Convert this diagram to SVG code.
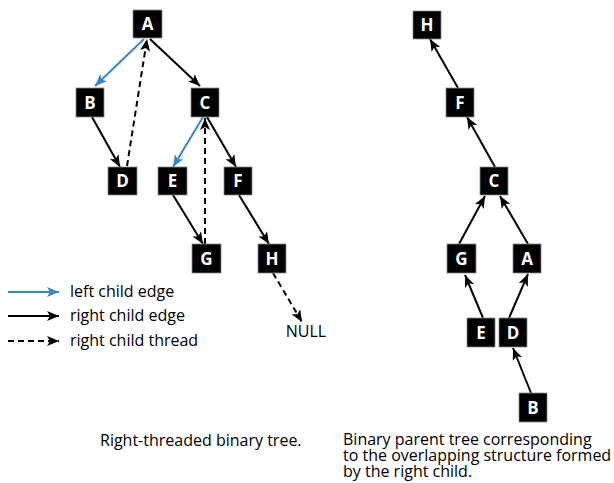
<svg xmlns="http://www.w3.org/2000/svg" width="614" height="483" viewBox="0 0 614 483">
  <style>
    .node rect { fill: #000; stroke: #8a8a8a; stroke-width: 0.8; }
    .node text { fill: #fff; font-family: "Open Sans", "Noto Sans", sans-serif; font-weight: bold; font-size: 17px; text-anchor: middle; }
    .edge { fill: none; stroke: #000; stroke-width: 2; }
    .left { stroke: #3786c8; }
    .thread { stroke-dasharray: 6 4; }
    .label { fill: #000; font-family: "Open Sans", "Noto Sans", sans-serif; font-size: 16px; }
  </style>
  <defs>
    <marker id="arrowBlack" markerUnits="userSpaceOnUse" markerWidth="13" markerHeight="11" refX="12" refY="5" orient="auto">
      <path d="M0,0 L12,5 L0,10 L3,5 z" fill="#000"/>
    </marker>
    <marker id="arrowBlue" markerUnits="userSpaceOnUse" markerWidth="13" markerHeight="11" refX="12" refY="5" orient="auto">
      <path d="M0,0 L12,5 L0,10 L3,5 z" fill="#3786c8"/>
    </marker>
  </defs>

  <!-- connectors -->
  <g id="connectors">
    <!-- right-threaded binary tree -->
    <path class="edge left" d="M144,39 L95,86" marker-end="url(#arrowBlue)"/>
    <path class="edge" d="M150,39 L200,86" marker-end="url(#arrowBlack)"/>
    <path class="edge thread" d="M127,166 L147,39" marker-end="url(#arrowBlack)"/>
    <path class="edge" d="M92,117 L120,167" marker-end="url(#arrowBlack)"/>
    <path class="edge left" d="M203,117 L173,167" marker-end="url(#arrowBlue)"/>
    <path class="edge thread" d="M205,244 L205,118" marker-end="url(#arrowBlack)"/>
    <path class="edge" d="M207,117 L236,167" marker-end="url(#arrowBlack)"/>
    <path class="edge" d="M173,195 L203,244" marker-end="url(#arrowBlack)"/>
    <path class="edge" d="M239,195 L269,244" marker-end="url(#arrowBlack)"/>
    <path class="edge thread" d="M273,273 L302,322" marker-end="url(#arrowBlack)"/>

    <!-- binary parent tree -->
    <path class="edge" d="M458,88 L430,39" marker-end="url(#arrowBlack)"/>
    <path class="edge" d="M495,167 L467,117" marker-end="url(#arrowBlack)"/>
    <path class="edge" d="M459,244 L485,196" marker-end="url(#arrowBlack)"/>
    <path class="edge" d="M528,244 L500,196" marker-end="url(#arrowBlack)"/>
    <path class="edge" d="M483,318 L465,275" marker-end="url(#arrowBlack)"/>
    <path class="edge" d="M509,318 L528,274" marker-end="url(#arrowBlack)"/>
    <path class="edge" d="M531,393 L513,348" marker-end="url(#arrowBlack)"/>

    <!-- legend lines -->
    <path class="edge left" d="M8,292 L59,292" marker-end="url(#arrowBlue)"/>
    <path class="edge" d="M8,316 L59,316" marker-end="url(#arrowBlack)"/>
    <path class="edge thread" d="M8,341 L59,341" marker-end="url(#arrowBlack)"/>
  </g>

  <!-- right-threaded binary tree nodes -->
  <g id="tA" class="node"><rect x="133" y="10" width="29" height="28"/><text x="147.5" y="30">A</text></g>
  <g id="tB" class="node"><rect x="76" y="88" width="28" height="29"/><text x="90" y="108.5">B</text></g>
  <g id="tC" class="node"><rect x="191" y="88" width="28" height="29"/><text x="205" y="108.5">C</text></g>
  <g id="tD" class="node"><rect x="108" y="167" width="29" height="28"/><text x="122.5" y="187">D</text></g>
  <g id="tE" class="node"><rect x="158" y="167" width="29" height="28"/><text x="172.5" y="187">E</text></g>
  <g id="tF" class="node"><rect x="224" y="167" width="28" height="28"/><text x="238" y="187">F</text></g>
  <g id="tG" class="node"><rect x="192" y="244" width="29" height="29"/><text x="206.5" y="264.5">G</text></g>
  <g id="tH" class="node"><rect x="258" y="244" width="28" height="29"/><text x="272" y="264.5">H</text></g>
  <text id="null" class="label" x="306" y="337" text-anchor="middle">NULL</text>

  <!-- binary parent tree nodes -->
  <g id="pH" class="node"><rect x="413" y="11" width="28" height="28"/><text x="427" y="31">H</text></g>
  <g id="pF" class="node"><rect x="446" y="88" width="28" height="29"/><text x="460" y="108.5">F</text></g>
  <g id="pC" class="node"><rect x="480" y="167" width="28" height="28"/><text x="494" y="187">C</text></g>
  <g id="pG" class="node"><rect x="447" y="244" width="29" height="29"/><text x="461.5" y="264.5">G</text></g>
  <g id="pA" class="node"><rect x="513" y="244" width="28" height="29"/><text x="527" y="264.5">A</text></g>
  <g id="pE" class="node"><rect x="467" y="318" width="28" height="29"/><text x="481" y="338.5">E</text></g>
  <g id="pD" class="node"><rect x="499" y="318" width="28" height="29"/><text x="513" y="338.5">D</text></g>
  <g id="pB" class="node"><rect x="519" y="393" width="28" height="29"/><text x="533" y="413.5">B</text></g>

  <!-- legend -->
  <g id="legend">
    <text class="label" x="70" y="297">left child edge</text>
    <text class="label" x="70" y="321">right child edge</text>
    <text class="label" x="70" y="346">right child thread</text>
  </g>

  <!-- captions -->
  <text id="caption-left" class="label" x="100" y="446">Right-threaded binary tree.</text>
  <text id="caption-right" class="label" x="343" y="445">Binary parent tree corresponding<tspan x="343" y="461">to the overlapping structure formed</tspan><tspan x="343" y="477">by the right child.</tspan></text>
</svg>
